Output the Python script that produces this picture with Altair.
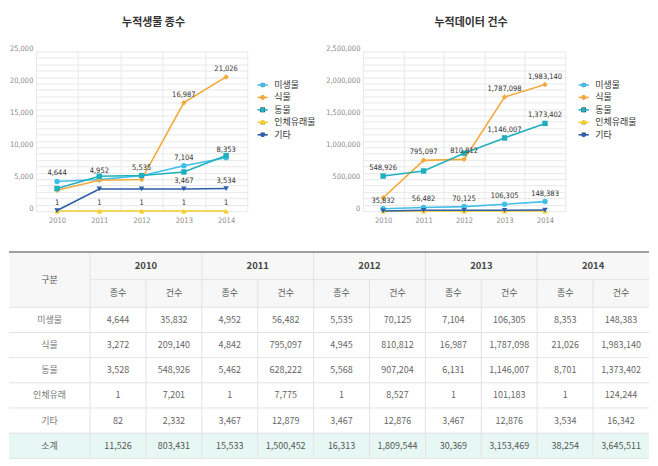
import altair as alt
import pandas as pd

years = ["2010", "2011", "2012", "2013", "2014"]
groups = ["미생물", "식물", "동물", "인체유래물", "기타"]

# 종수 (species counts)
species_micro = [4644, 4952, 5535, 7104, 8353]
species_plant = [3272, 4842, 4945, 16987, 21026]
species_animal = [3528, 5462, 5568, 6131, 8701]
species_human = [1, 1, 1, 1, 1]
species_other = [82, 3467, 3467, 3467, 3534]
species_total = [11526, 15533, 16313, 30369, 38254]

# 건수 (record counts)
records_micro = [35832, 56482, 70125, 106305, 148383]
records_plant = [209140, 795097, 810812, 1787098, 1983140]
records_animal = [548926, 628222, 907204, 1146007, 1373402]
records_human = [7201, 7775, 8527, 101183, 124244]
records_other = [2332, 12879, 12876, 12876, 16342]
records_total = [803431, 1500452, 1809544, 3153469, 3645511]

# 인체유래물 as drawn in the record chart (sits on the baseline)
records_human_chart = [1, 1, 1, 1, 1]

# which points carry a value label
species_label_micro = [True, True, True, True, True]
species_label_plant = [False, False, False, True, True]
species_label_animal = [False, False, False, False, False]
species_label_human = [True, True, True, True, True]
species_label_other = [False, False, False, True, True]

records_label_micro = [True, True, True, True, True]
records_label_plant = [False, True, True, True, True]
records_label_animal = [True, False, False, True, True]
records_label_human = [False, False, False, False, False]
records_label_other = [False, False, False, False, False]

table_rows = ["미생물", "식물", "동물", "인체유래", "기타", "소계"]
sub_headers = ["종수", "건수"]

KFONT = "Noto Sans CJK KR"
NFONT = "Liberation Sans Narrow, DejaVu Sans Condensed, Roboto, sans-serif"
group_colors = ["#41bfe8", "#f2a93b", "#21afbd", "#f5cd2b", "#2d5ea8"]
group_shapes = ["circle", "diamond", "square", "triangle-up", "triangle-down"]
GRID = "#e8e8e8"
LEFT_GUTTER = 27  # room left of the plot areas for the y-axis labels
LEGEND_LINE = "M-2.2,0L2.2,0"


def long_frame(series, flags):
    rows = []
    for g, vals, fl in zip(groups, series, flags):
        for yr, v, f in zip(years, vals, fl):
            rows.append({"year": yr, "group": g, "value": v, "label": f})
    return pd.DataFrame(rows)


def panel(df, title, ymax, minor, major, width, legend_x, title_dx):
    x_enc = alt.X(
        "year:N", sort=years, bandPosition=0.5,
        scale=alt.Scale(type="band", paddingInner=0, paddingOuter=0),
        axis=alt.Axis(title=None, labelAngle=0, tickBand="extent", grid=True,
                      gridColor=GRID, ticks=False, domain=False, labelFont=NFONT,
                      labelFontSize=7.5, labelColor="#8a8a8a", labelPadding=5),
    )
    y_enc = alt.Y(
        "value:Q", scale=alt.Scale(domain=[0, ymax], nice=False, zero=True),
        axis=alt.Axis(title=None, values=list(range(0, ymax + 1, minor)),
                      labelExpr=f"datum.value % {major} === 0 ? format(datum.value, ',') : ''",
                      labelOverlap=False, gridColor=GRID, ticks=False, domain=False,
                      labelFont=NFONT, labelFontSize=7.5, labelColor="#8a8a8a",
                      labelPadding=3, labelOffset=-3),
    )
    color_scale = alt.Scale(domain=groups, range=group_colors)
    line_legend = alt.Legend(title=None, orient="none", legendX=legend_x, legendY=29,
                             symbolType=LEGEND_LINE, symbolSize=22, symbolStrokeWidth=1.6,
                             labelFont=KFONT, labelFontSize=9, labelColor="#333",
                             labelOffset=7, rowPadding=2.5, padding=0)
    point_legend = alt.Legend(title=None, orient="none", legendX=legend_x, legendY=29,
                              symbolSize=22, symbolStrokeWidth=0, labelFont=KFONT,
                              labelFontSize=9, labelExpr="''", labelOffset=7,
                              rowPadding=2.5, padding=0)
    base = alt.Chart(df)
    lines = base.mark_line(strokeWidth=1.6).encode(
        x=x_enc, y=y_enc,
        color=alt.Color("group:N", scale=color_scale, sort=groups, legend=line_legend),
    )
    points = base.mark_point(filled=True, size=30, opacity=1, strokeWidth=0).encode(
        x=x_enc, y=y_enc,
        color=alt.Color("group:N", scale=color_scale, sort=groups, legend=point_legend),
        shape=alt.Shape("group:N", sort=groups,
                        scale=alt.Scale(domain=groups, range=group_shapes),
                        legend=point_legend),
    )
    labels = base.transform_filter("datum.label").mark_text(
        dy=-8, font=NFONT, fontSize=7.5, color="#333"
    ).encode(x=x_enc, y=y_enc, text=alt.Text("value:Q", format=","))
    return alt.layer(lines, points, labels).resolve_scale(color="independent").properties(
        width=width, height=160,
        title=alt.Title(title, font=KFONT, fontSize=11, fontWeight="bold", color="#333",
                        anchor="middle", frame="group", dx=title_dx, offset=17),
    )


species_df = long_frame(
    [species_micro, species_plant, species_animal, species_human, species_other],
    [species_label_micro, species_label_plant, species_label_animal,
     species_label_human, species_label_other],
)
records_df = long_frame(
    [records_micro, records_plant, records_animal, records_human_chart, records_other],
    [records_label_micro, records_label_plant, records_label_animal,
     records_label_human, records_label_other],
)

p1 = panel(species_df, "누적생물 종수", 25000, 1000, 5000, 212, 223, 12)
p2 = panel(records_df, "누적데이터 건수", 2500000, 100000, 500000, 203, 217, 7)

# ---------------- table ----------------
first_w = 1.45
head_h = 1.1
total_x = first_w + 2 * len(years)
total_y = 2 * head_h + len(table_rows)
row_species = [species_micro, species_plant, species_animal, species_human, species_other, species_total]
row_records = [records_micro, records_plant, records_animal, records_human, records_other, records_total]

cells = [dict(x0=0, x1=first_w, y0=0, y1=2 * head_h, text="구분", kind="head")]
for i, yr in enumerate(years):
    x0 = first_w + 2 * i
    cells.append(dict(x0=x0, x1=x0 + 2, y0=0, y1=head_h, text=yr, kind="year"))
    for j, sub in enumerate(sub_headers):
        cells.append(dict(x0=x0 + j, x1=x0 + j + 1, y0=head_h, y1=2 * head_h, text=sub, kind="head"))
for r, name in enumerate(table_rows):
    y0 = 2 * head_h + r
    kind = "total" if name == "소계" else "body"
    cells.append(dict(x0=0, x1=first_w, y0=y0, y1=y0 + 1, text=name, kind=kind + "_label"))
    for i in range(len(years)):
        for j, arr in enumerate([row_species[r], row_records[r]]):
            x0 = first_w + 2 * i + j
            cells.append(dict(x0=x0, x1=x0 + 1, y0=y0, y1=y0 + 1, text=f"{arr[i]:,}", kind=kind))
cells_df = pd.DataFrame(cells)
cells_df["xc"] = (cells_df["x0"] + cells_df["x1"]) / 2
cells_df["yc"] = (cells_df["y0"] + cells_df["y1"]) / 2

kinds = ["head", "year", "body", "body_label", "total", "total_label"]
fill_range = ["#f7f7f7", "#f7f7f7", "#ffffff", "#ffffff", "#e7f8f4", "#e7f8f4"]
text_range = ["#555555", "#444444", "#666666", "#777777", "#555555", "#666666"]

TABLE_W = 615
xs = alt.Scale(domain=[0, total_x], range=[-LEFT_GUTTER, TABLE_W], nice=False, zero=False)
ys = alt.Scale(domain=[0, total_y], nice=False, zero=False, reverse=True)
tbase = alt.Chart(cells_df)
rects = tbase.mark_rect().encode(
    x=alt.X("x0:Q", scale=xs, axis=None), x2="x1:Q",
    y=alt.Y("y0:Q", scale=ys, axis=None), y2="y1:Q",
    fill=alt.Fill("kind:N", scale=alt.Scale(domain=kinds, range=fill_range), legend=None),
)
vlines = tbase.transform_filter(f"datum.x1 < {total_x - 0.01}").mark_rule(
    color="#e2e2e2", strokeWidth=1
).encode(x=alt.X("x1:Q", scale=xs, axis=None), y=alt.Y("y0:Q", scale=ys, axis=None), y2="y1:Q")
hlines = tbase.mark_rule(color="#e2e2e2", strokeWidth=1).encode(
    x=alt.X("x0:Q", scale=xs, axis=None), x2="x1:Q", y=alt.Y("y1:Q", scale=ys, axis=None)
)
top_df = pd.DataFrame({"x0": [0], "x1": [total_x], "y": [0]})
top_line = alt.Chart(top_df).mark_rule(color="#808080", strokeWidth=1.5).encode(
    x=alt.X("x0:Q", scale=xs, axis=None), x2="x1:Q", y=alt.Y("y:Q", scale=ys, axis=None)
)
year_text = tbase.transform_filter("datum.kind === 'year'").mark_text(
    font=KFONT, fontSize=9.5, fontWeight="bold", color="#444"
).encode(x=alt.X("xc:Q", scale=xs, axis=None), y=alt.Y("yc:Q", scale=ys, axis=None), text="text:N")
other_text = tbase.transform_filter("datum.kind !== 'year'").mark_text(
    font=KFONT, fontSize=9
).encode(
    x=alt.X("xc:Q", scale=xs, axis=None), y=alt.Y("yc:Q", scale=ys, axis=None), text="text:N",
    color=alt.Color("kind:N", scale=alt.Scale(domain=kinds, range=text_range), legend=None),
)
table = alt.layer(rects, vlines, hlines, top_line, year_text, other_text).properties(
    width=TABLE_W, height=207
)

top = alt.hconcat(p1, p2, spacing=116, bounds="flush").resolve_scale(
    x="independent", y="independent", color="independent", shape="independent"
)
chart = alt.vconcat(top, table, spacing=27).resolve_scale(
    x="independent", y="independent", color="independent"
).properties(
    padding={"left": 0, "top": 8, "right": 0, "bottom": 0}, background="white"
).configure_view(stroke=None)

chart.save("out.html", embed_options={"renderer": "svg", "actions": False})
